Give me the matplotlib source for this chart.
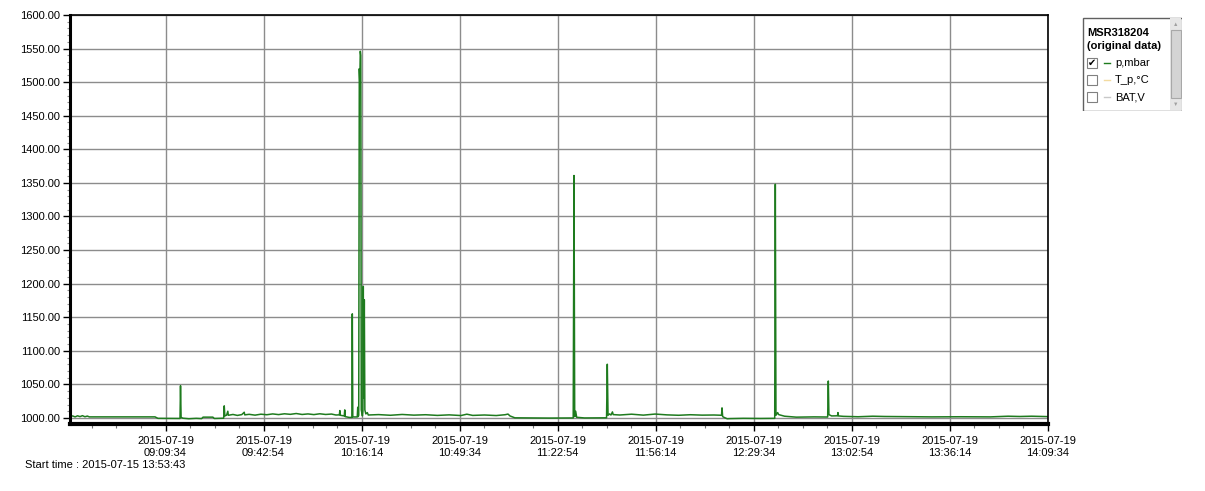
import numpy as np
import matplotlib
matplotlib.use('Agg')
import matplotlib.pyplot as plt
from matplotlib.patches import Rectangle
from matplotlib.ticker import MultipleLocator

plt.rcParams['font.family'] = ['Liberation Sans', 'DejaVu Sans']

# Pressure trace (p, mbar) on 2015-07-19
times = [
    "08:37:06", "08:38:00", "08:38:50", "08:39:40", "08:40:30", "08:41:20", "08:42:10", "08:43:00",
    "08:43:40", "09:06:00", "09:07:00",
    "09:14:30", "09:14:40", "09:14:52", "09:15:30", "09:17:30", "09:20:00", "09:21:50", "09:22:20",
    "09:25:40", "09:26:10", "09:29:20", "09:29:32", "09:29:44", "09:30:20", "09:30:45", "09:30:55",
    "09:32:30", "09:34:00", "09:35:30", "09:36:20", "09:36:30", "09:38:00", "09:40:00", "09:42:00",
    "09:44:00", "09:46:00", "09:48:00", "09:50:00", "09:52:00", "09:54:00", "09:56:00", "09:58:00",
    "10:00:00", "10:02:00", "10:04:00", "10:06:00", "10:07:30",
    "10:08:40", "10:08:50", "10:09:00", "10:10:20", "10:10:30", "10:10:40", "10:12:00", "10:12:55",
    "10:13:04", "10:13:14", "10:14:45", "10:14:55", "10:15:05", "10:15:15", "10:15:27", "10:15:37",
    "10:15:47", "10:15:57", "10:16:07", "10:16:30", "10:16:40", "10:16:48", "10:16:58", "10:17:09",
    "10:17:20", "10:17:40", "10:18:10", "10:18:30",
    "10:22:00", "10:26:00", "10:30:00", "10:34:00", "10:38:00", "10:42:00", "10:46:00", "10:50:00",
    "10:52:00", "10:54:00", "10:58:00", "11:02:00", "11:05:00", "11:06:00", "11:06:40", "11:08:20",
    "11:14:00", "11:20:00", "11:28:10", "11:28:26", "11:28:40", "11:29:00", "11:29:20", "11:32:00",
    "11:39:30", "11:39:45", "11:40:00", "11:40:30", "11:41:00", "11:41:30", "11:41:45",
    "11:44:00", "11:48:00", "11:52:00", "11:56:00", "12:00:00", "12:04:00", "12:08:00", "12:12:00",
    "12:16:00", "12:18:35", "12:18:45", "12:18:58", "12:19:40", "12:20:30", "12:21:30", "12:26:00",
    "12:32:00", "12:36:40", "12:36:52", "12:37:05", "12:37:40", "12:38:00", "12:40:00", "12:44:00",
    "12:50:00", "12:54:40", "12:54:53", "12:55:05", "12:56:00", "12:58:00", "12:58:10", "12:58:20",
    "13:00:00", "13:05:00", "13:10:00", "13:14:00", "13:20:00", "13:30:00", "13:40:00", "13:50:00",
    "13:56:00", "14:00:00", "14:04:00", "14:09:34",
]
pressure = [
    1002.0, 1003.0, 1001.6, 1003.2, 1002.0, 1003.4, 1001.8, 1002.8,
    1001.6, 1001.6, 999.4,
    999.2, 1048.0, 1000.8, 999.6, 998.8, 999.4, 999.0, 1001.2,
    1001.2, 999.2, 999.6, 1018.0, 1003.0, 1004.2, 1010.0, 1004.0,
    1005.2, 1003.8, 1005.0, 1008.5, 1004.6, 1005.4, 1004.2, 1005.6,
    1004.8, 1006.0, 1005.0, 1006.2, 1005.4, 1006.6, 1005.2, 1006.0,
    1005.0, 1006.2, 1005.2, 1005.8, 1004.4,
    1004.6, 1011.0, 1004.0, 1003.0, 1012.0, 1002.0, 1000.8, 1000.8,
    1155.0, 1001.5, 1001.5, 1016.0, 1002.0, 1004.0, 1520.0, 1500.0,
    1546.0, 1540.0, 1012.0, 1003.0, 1010.0, 1196.0, 1030.0, 1176.0,
    1012.0, 1006.0, 1008.0, 1004.4,
    1005.0, 1004.0, 1005.2, 1004.2, 1004.8, 1003.8, 1004.6, 1003.6,
    1005.6, 1003.8, 1004.4, 1003.6, 1004.8, 1005.8, 1003.0, 1000.2,
    1000.0, 999.8, 1000.0, 1361.0, 1002.0, 1010.0, 1001.0, 1000.0,
    1000.2, 1080.0, 1004.0, 1006.0, 1004.4, 1009.0, 1005.0,
    1004.4, 1005.6, 1004.2, 1005.8, 1004.6, 1004.0, 1004.8, 1004.2,
    1004.4, 1004.0, 1015.0, 1002.0, 1000.4, 998.8, 999.0, 999.4,
    999.2, 999.4, 1348.0, 1004.0, 1008.0, 1005.0, 1002.6, 1001.2,
    1001.6, 1001.4, 1055.0, 1005.0, 1003.0, 1003.2, 1008.0, 1003.0,
    1002.4, 1001.8, 1002.6, 1002.2, 1002.0, 1001.6, 1001.8, 1001.6,
    1002.6, 1002.2, 1002.6, 1002.0,
]

tick_times = ["09:09:34", "09:42:54", "10:16:14", "10:49:34", "11:22:54",
              "11:56:14", "12:29:34", "13:02:54", "13:36:14", "14:09:34"]
day = "2015-07-19"
start_label = "Start time : 2015-07-15 13:53:43"
legend_title = "MSR318204\n(original data)"
legend_items = ["p,mbar", "T_p,\u00b0C", "BAT,V"]
legend_colors = ["#1e7b1e", "#f3dba0", "#c8c8c8"]
legend_checked = [True, False, False]

x = np.array([np.datetime64(day + "T" + t) for t in times])
ticks = np.array([np.datetime64(day + "T" + t) for t in tick_times])

fig = plt.figure(figsize=(12.05, 4.91), dpi=100)
ax = fig.add_axes([70 / 1205, 1 - 424 / 491, (1048 - 70) / 1205, (424 - 15) / 491])

ax.plot(x, pressure, color="#1e7b1e", linewidth=1.1)

ax.set_ylim(991, 1600)
ax.set_xlim(np.datetime64(day + "T08:37:06"), np.datetime64(day + "T14:09:34"))
ax.yaxis.set_major_locator(MultipleLocator(50))
ax.yaxis.set_minor_locator(MultipleLocator(10))
ax.yaxis.set_major_formatter(plt.FormatStrFormatter("%.2f"))
ax.set_xticks(ticks)
ax.set_xticklabels([day + "\n" + t for t in tick_times])
# minor x ticks every 500 s
minor = [np.datetime64(day + "T" + tick_times[0]) + np.timedelta64(500 * k, 's') for k in range(-3, 37)]
ax.set_xticks(minor, minor=True)

ax.grid(True, which="major", color="#8c8c8c", linewidth=1.0)
ax.set_axisbelow(True)
ax.tick_params(axis="y", which="major", length=5, width=1, labelsize=8, pad=2)
ax.tick_params(axis="y", which="minor", length=2, width=0.8, color="#909090")
ax.tick_params(axis="x", which="major", length=5, width=1, labelsize=8, pad=4)
ax.tick_params(axis="x", which="minor", length=3, width=0.8, color="#707070")
for lbl in ax.get_xticklabels():
    lbl.set_linespacing(1.15)

ax.spines["left"].set_linewidth(2.2)
ax.spines["bottom"].set_linewidth(3.0)
ax.spines["top"].set_linewidth(1.2)
ax.spines["right"].set_linewidth(1.2)

fig.text(25 / 1205, 1 - 465 / 491, start_label, fontsize=8, va="center", ha="left")

# legend panel drawn in pixel coordinates
lax = fig.add_axes([1082 / 1205, 1 - 111 / 491, 100 / 1205, 94 / 491])
lax.set_xlim(1082, 1182)
lax.set_ylim(111, 17)
lax.axis("off")
lax.add_patch(Rectangle((1082.5, 17.5), 99, 93, facecolor="white", edgecolor="#606060", lw=1))
lax.add_patch(Rectangle((1170, 18), 11, 92, facecolor="#e6e6e6", edgecolor="none"))
lax.add_patch(Rectangle((1170.5, 30), 10, 68, facecolor="#d4d4d4", edgecolor="#a8a8a8", lw=0.8))
lax.text(1175.5, 24, "\u25b2", fontsize=4, color="#a0a0a0", ha="center", va="center")
lax.text(1175.5, 104, "\u25bc", fontsize=4, color="#a0a0a0", ha="center", va="center")
lax.text(1087, 39.5, legend_title, fontsize=8, fontweight="bold", ha="left", va="center",
         linespacing=1.3)
rows = [63, 80, 97]
for yy, name, col, chk in zip(rows, legend_items, legend_colors, legend_checked):
    lax.add_patch(Rectangle((1087, yy - 5), 10, 10, facecolor="white", edgecolor="#808080", lw=0.8))
    if chk:
        lax.text(1092, yy, "\u2714", fontsize=7, ha="center", va="center", color="black",
                 family=["DejaVu Sans"])
    lax.plot([1104, 1110], [yy, yy], color=col, lw=1)
    lax.text(1115, yy, name, fontsize=8, ha="left", va="center")

plt.savefig("out.png", dpi=100)
